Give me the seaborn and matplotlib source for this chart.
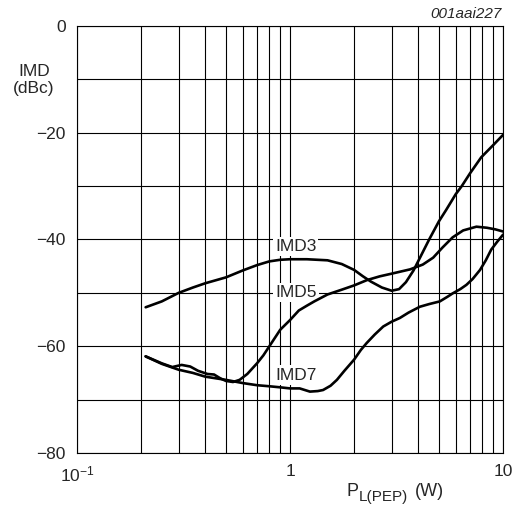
import matplotlib
matplotlib.use("Agg")
import matplotlib.pyplot as plt
import matplotlib.ticker as mticker
import pandas as pd
import seaborn as sns

# values (P in W, IMD in dBc)
imd3_p = [0.21, 0.25, 0.3, 0.35, 0.4, 0.5, 0.6, 0.7, 0.8, 0.9, 1.0, 1.2, 1.5, 1.75,
          2.0, 2.2, 2.4, 2.7, 3.0, 3.25, 3.5, 3.8, 4.1, 4.5, 5.0, 5.4, 6.0, 6.4,
          7.0, 7.9, 9.0, 10.0]
imd3_db = [-52.7, -51.6, -50.0, -49.0, -48.2, -47.1, -45.8, -44.8, -44.1, -43.8, -43.7,
           -43.7, -43.9, -44.6, -45.7, -46.9, -47.9, -49.0, -49.6, -49.3, -48.0, -45.8,
           -43.2, -40.0, -36.6, -34.5, -31.5, -30.0, -27.6, -24.6, -22.3, -20.4]

imd5_p = [0.21, 0.25, 0.28, 0.31, 0.34, 0.37, 0.41, 0.44, 0.47, 0.5, 0.54, 0.58, 0.63,
          0.7, 0.75, 0.8, 0.9, 1.0, 1.1, 1.2, 1.3, 1.5, 1.75, 2.0, 2.3, 2.64, 3.0,
          3.66, 4.2, 4.7, 5.2, 5.8, 6.5, 7.5, 8.4, 9.2, 10.0]
imd5_db = [-61.9, -63.2, -63.9, -63.5, -63.8, -64.6, -65.2, -65.3, -66.0, -66.5, -66.7,
           -66.3, -65.2, -63.2, -61.7, -60.0, -56.9, -55.1, -53.3, -52.4, -51.6, -50.3,
           -49.4, -48.6, -47.6, -46.9, -46.4, -45.6, -44.7, -43.4, -41.5, -39.6, -38.3,
           -37.6, -37.8, -38.1, -38.5]

imd7_p = [0.21, 0.25, 0.3, 0.35, 0.4, 0.5, 0.6, 0.7, 0.8, 0.9, 1.0, 1.11, 1.24, 1.35,
          1.43, 1.55, 1.66, 1.8, 2.0, 2.15, 2.29, 2.5, 2.74, 3.0, 3.28, 3.6, 4.07, 4.5,
          5.05, 5.5, 5.8, 6.3, 6.73, 7.2, 7.8, 8.3, 8.8, 9.4, 10.0]
imd7_db = [-61.9, -63.3, -64.4, -65.0, -65.7, -66.3, -66.9, -67.3, -67.5, -67.7, -67.9,
           -67.9, -68.5, -68.4, -68.2, -67.4, -66.3, -64.6, -62.5, -60.7, -59.4, -57.8,
           -56.3, -55.4, -54.7, -53.7, -52.6, -52.1, -51.6, -50.7, -50.1, -49.3, -48.5,
           -47.4, -45.7, -43.9, -41.9, -40.4, -39.1]

curve_names = ["IMD3", "IMD5", "IMD7"]
label_y = [-41.3, -49.9, -65.4]

sns.set_style("white")
plt.rcParams["font.family"] = ["Liberation Sans", "DejaVu Sans"]
plt.rcParams["mathtext.fontset"] = "custom"
plt.rcParams["mathtext.rm"] = "Liberation Sans"
plt.rcParams["mathtext.it"] = "Liberation Sans:italic"

df = pd.concat([
    pd.DataFrame({"p": imd3_p, "imd": imd3_db, "curve": "IMD3"}),
    pd.DataFrame({"p": imd5_p, "imd": imd5_db, "curve": "IMD5"}),
    pd.DataFrame({"p": imd7_p, "imd": imd7_db, "curve": "IMD7"}),
])

fig = plt.figure(figsize=(5.21, 5.08), dpi=100)
ax = fig.add_axes([0.1478, 0.1083, 0.8177, 0.8405])

for name in curve_names:
    sns.lineplot(data=df[df["curve"] == name], x="p", y="imd", ax=ax, color="black",
                 linewidth=1.9, sort=False, estimator=None, legend=False, zorder=3)

ax.set_xscale("log")
ax.set_xlim(0.1, 10)
ax.set_ylim(-80, 0)
ax.yaxis.set_major_locator(mticker.MultipleLocator(20))
ax.yaxis.set_minor_locator(mticker.MultipleLocator(10))
ax.yaxis.set_major_formatter(mticker.FuncFormatter(lambda v, _: f"{v:.0f}".replace("-", "\u2212")))
ax.xaxis.set_major_locator(mticker.FixedLocator([0.1, 1, 10]))
ax.xaxis.set_major_formatter(mticker.FixedFormatter(["$10^{\u22121}$", "1", "10"]))
ax.xaxis.set_minor_locator(mticker.LogLocator(base=10, subs=range(2, 10)))
ax.xaxis.set_minor_formatter(mticker.NullFormatter())
ax.grid(True, which="both", color="black", linewidth=0.8)
ax.set_axisbelow(True)
ax.tick_params(which="both", length=0, labelsize=12.5, pad=8)
ax.set_xlabel("")
ax.set_ylabel("")
for s in ax.spines.values():
    s.set_color("black")
    s.set_linewidth(0.8)

for name, y in zip(curve_names, label_y):
    ax.text(0.85, y, name, fontsize=12.5, va="center", ha="left", zorder=2.5,
            bbox=dict(facecolor="white", edgecolor="none", pad=1.5))

fig.text(34 / 521, 1 - 80 / 508, "IMD\n(dBc)", ha="center", va="center", fontsize=12.5,
         linespacing=1.15)
fig.text(502 / 521, 1 - 14 / 508, "001aai227", ha="right", va="center", fontsize=11,
         style="italic")
# x-axis title: P with a large subscript, then the unit
fig.text(347 / 521, 1 - 492 / 508, "P", ha="left", va="center", fontsize=13)
fig.text(359 / 521, 1 - 497 / 508, "L(PEP)", ha="left", va="center", fontsize=11)
fig.text(415 / 521, 1 - 492 / 508, "(W)", ha="left", va="center", fontsize=13)

fig.savefig("out.png", dpi=100)
